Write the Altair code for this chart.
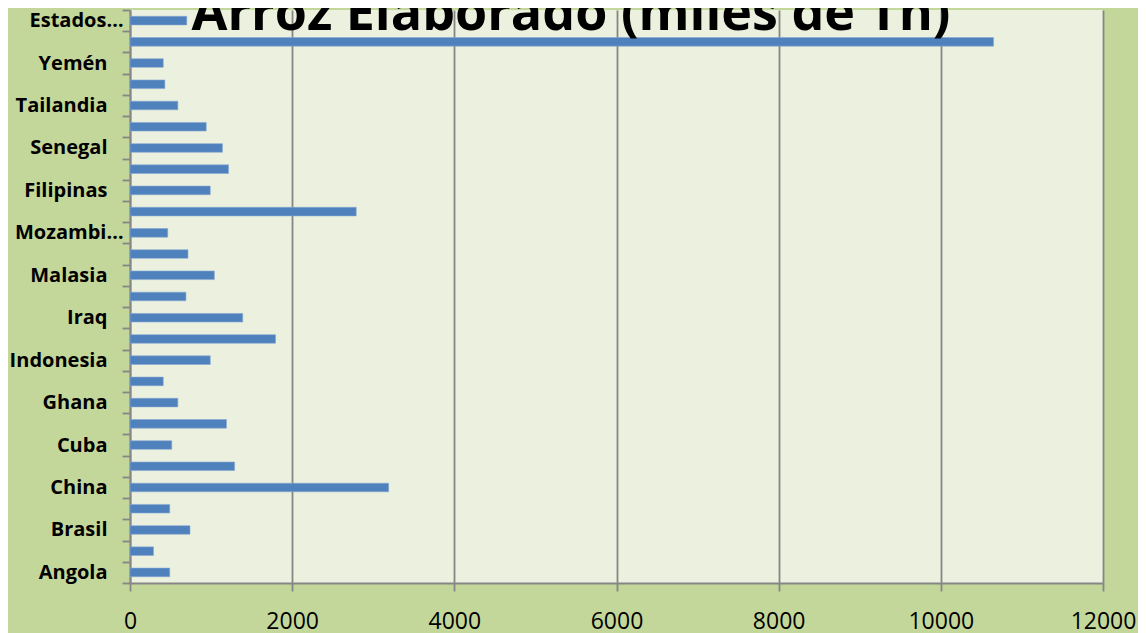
import json
import altair as alt
import pandas as pd

# Categories listed from bottom to top (as drawn)
paises = ["Angola", "Bangladesh", "Brasil", "Camerún", "China", "Costa de Marfil",
          "Cuba", "Unión Europea", "Ghana", "Haití", "Indonesia", "Irán", "Iraq",
          "Japón", "Malasia", "México", "Mozambique", "Nigeria", "Filipinas",
          "Arabia Saudita", "Senegal", "Sudáfrica", "Tailandia", "Emiratos Árabes",
          "Yemén", "Otros", "Estados Unidos"]
miles_tn = [490, 290, 740, 490, 3190, 1290, 515, 1190, 590, 410, 990, 1795, 1390,
            690, 1040, 715, 465, 2790, 990, 1215, 1140, 940, 590, 430, 410, 10650, 700]
x_ticks = [0, 2000, 4000, 6000, 8000, 10000, 12000]
titulo = "Arroz Elaborado (miles de Tn)"

df = pd.DataFrame({"pais": paises, "valor": miles_tn})

shown = paises[0::2]
label_expr = (
    f"indexof({json.dumps(shown, ensure_ascii=False)}, datum.value) < 0 ? '' : "
    f"(length(datum.value) > 9 ? substring(datum.value, 0, 7) + '…' : datum.value)"
)

GRAY = "#868686"
FONT = "Open Sans"

bars = alt.Chart(df).mark_bar(size=8.6, color="#4f81bd", stroke="#86a8d4", strokeWidth=0.6).encode(
    x=alt.X("valor:Q", scale=alt.Scale(domain=[0, 12000], nice=False),
            axis=alt.Axis(values=x_ticks, title=None, grid=True, gridColor=GRAY, gridWidth=1.8,
                          domainColor=GRAY, domainWidth=1.8, tickColor=GRAY, tickWidth=1.8,
                          tickSize=8, labelFont=FONT, labelFontSize=23, labelColor="black",
                          labelPadding=19, format="d", labelFlush=False)),
    y=alt.Y("pais:N", sort=paises[::-1], scale=alt.Scale(paddingInner=0, paddingOuter=0),
            axis=alt.Axis(title=None, tickBand="extent", ticks=True, tickSize=8, tickColor=GRAY,
                          tickWidth=1.8, domainColor=GRAY, domainWidth=1.8, labelFont=FONT,
                          labelFontSize=20, labelFontWeight="bold", labelColor="black",
                          labelPadding={"condition": {"test": "isString(datum.value) && length(datum.value) > 9",
                                                      "value": -1},
                                        "value": 15},
                          labelExpr=label_expr, labelLimit=300)),
)

title_df = pd.DataFrame({"t": [titulo]})
title = alt.Chart(title_df).mark_text(font=FONT, fontSize=52, fontWeight="bold", color="black",
                                      align="center", baseline="alphabetic").encode(
    text="t:N", x=alt.value(441), y=alt.value(20))

chart = alt.layer(bars, title).properties(
    width=973,
    height=573,
    autosize=alt.AutoSizeParams(type="none"),
    padding={"left": 122, "top": 2, "right": 35, "bottom": 50},
    background="#c4d79b",
).configure_view(fill="#ebf1de", stroke=None)

chart.save("out.html", embed_options={"renderer": "svg", "actions": False})
